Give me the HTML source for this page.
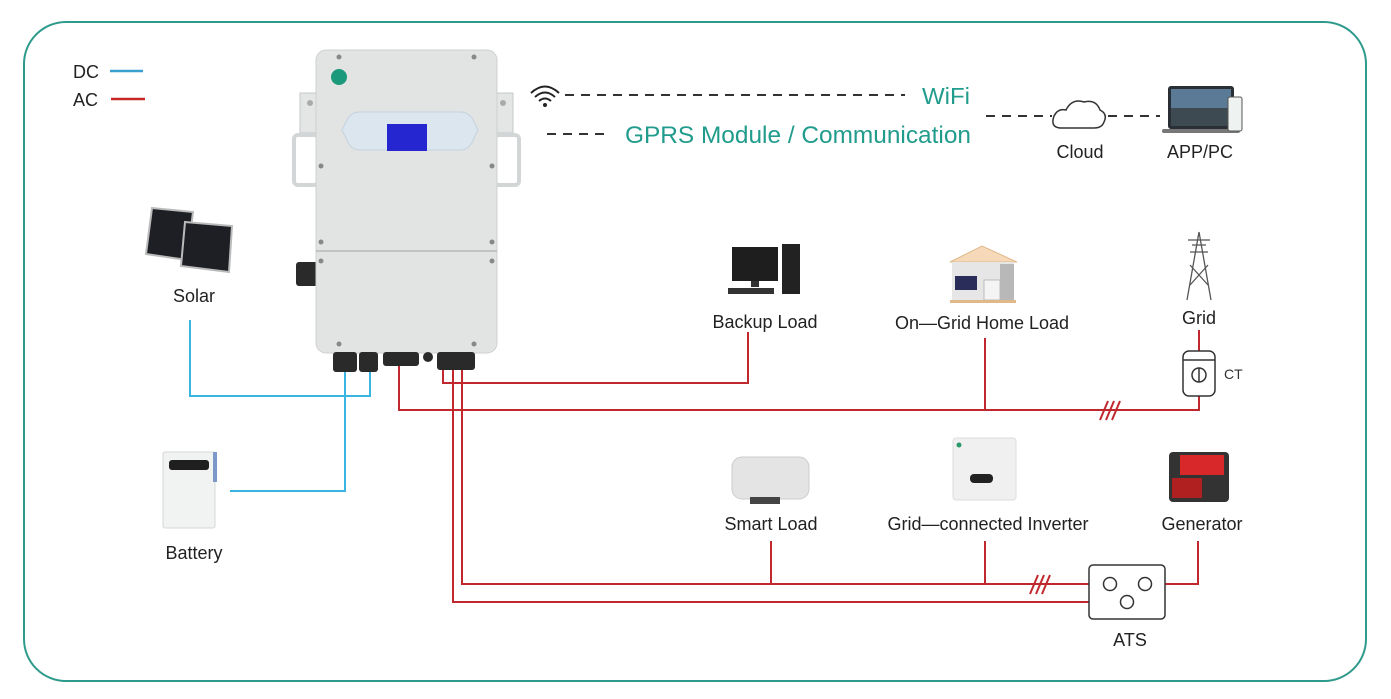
<!DOCTYPE html>
<html><head><meta charset="utf-8"><style>
html,body{margin:0;padding:0;background:#fff;}
svg{display:block;font-family:"Liberation Sans",sans-serif;}
</style></head><body>
<svg width="1391" height="699" viewBox="0 0 1391 699" xmlns="http://www.w3.org/2000/svg">
<rect x="24" y="22" width="1342" height="659" rx="42" fill="#fff" stroke="#2e9a8c" stroke-width="2"/>
<!-- legend -->
<text x="73" y="78" font-size="18" fill="#222">DC</text>
<line x1="110" y1="71" x2="143" y2="71" stroke="#3aa0d0" stroke-width="2.5"/>
<text x="73" y="106" font-size="18" fill="#222">AC</text>
<line x1="111" y1="99" x2="145" y2="99" stroke="#c62828" stroke-width="2.5"/>

<!-- DC wires -->
<g stroke="#3ab4e0" stroke-width="2" fill="none">
<polyline points="190,320 190,396 370,396 370,368"/>
<polyline points="230,491 345,491 345,368"/>
</g>
<!-- AC wires -->
<g stroke="#c0282d" stroke-width="2" fill="none">
<polyline points="443,368 443,383 748,383 748,332"/>
<polyline points="399,365 399,410 1199,410 1199,395"/>
<line x1="985" y1="338" x2="985" y2="410"/>
<line x1="1199" y1="330" x2="1199" y2="352"/>
<polyline points="462,368 462,584 1103,584"/>
<polyline points="453,368 453,602 1120,602"/>
<line x1="771" y1="541" x2="771" y2="584"/>
<line x1="985" y1="541" x2="985" y2="584"/>
<polyline points="1150,584 1198,584 1198,541"/>
<line x1="1100" y1="420" x2="1108" y2="401"/><line x1="1106" y1="420" x2="1114" y2="401"/><line x1="1112" y1="420" x2="1120" y2="401"/>
<line x1="1030" y1="594" x2="1038" y2="575"/><line x1="1036" y1="594" x2="1044" y2="575"/><line x1="1042" y1="594" x2="1050" y2="575"/>
</g>
<!-- CT -->
<rect x="1183" y="351" width="32" height="45" rx="6" fill="#fff" stroke="#333" stroke-width="1.5"/>
<line x1="1183" y1="360" x2="1215" y2="360" stroke="#333" stroke-width="1.5"/>
<circle cx="1199" cy="375" r="7" fill="none" stroke="#333" stroke-width="1.5"/>
<line x1="1199" y1="368" x2="1199" y2="382" stroke="#333" stroke-width="1.5"/>
<text x="1224" y="379" font-size="14" fill="#333">CT</text>
<!-- ATS -->
<rect x="1089" y="565" width="76" height="54" rx="4" fill="#fff" stroke="#333" stroke-width="1.5"/>
<circle cx="1110" cy="584" r="6.5" fill="#fff" stroke="#333" stroke-width="1.5"/>
<circle cx="1145" cy="584" r="6.5" fill="#fff" stroke="#333" stroke-width="1.5"/>
<circle cx="1127" cy="602" r="6.5" fill="#fff" stroke="#333" stroke-width="1.5"/>
<text x="1130" y="646" font-size="18" fill="#222" text-anchor="middle">ATS</text>

<!-- inverter brackets -->
<g fill="#e4e6e6" stroke="#c5c8c8">
<rect x="300" y="93" width="20" height="40"/><rect x="493" y="93" width="20" height="40"/>
</g>
<circle cx="310" cy="103" r="3" fill="#aaa"/><circle cx="503" cy="103" r="3" fill="#aaa"/>
<rect x="294" y="135" width="24" height="50" rx="4" fill="none" stroke="#d3d6d6" stroke-width="4"/>
<rect x="495" y="135" width="24" height="50" rx="4" fill="none" stroke="#d3d6d6" stroke-width="4"/>
<rect x="296" y="262" width="22" height="24" rx="3" fill="#2a2a2a"/>
<!-- inverter body -->
<rect x="316" y="50" width="181" height="303" rx="10" fill="#e2e3e3" stroke="#cfd1d1"/>
<line x1="316" y1="251" x2="497" y2="251" stroke="#b8baba" stroke-width="1.5"/>
<circle cx="339" cy="77" r="8" fill="#1a9a7a"/>
<path d="M360 112 L460 112 Q470 112 474 122 L478 130 L474 138 Q470 150 460 150 L360 150 Q350 150 346 138 L342 130 L346 122 Q350 112 360 112 Z" fill="#dce6ef" stroke="#c4d2de"/>
<rect x="387" y="124" width="40" height="27" fill="#2626d0"/>
<g fill="#888">
<circle cx="339" cy="57" r="2.5"/><circle cx="474" cy="57" r="2.5"/>
<circle cx="321" cy="166" r="2.5"/><circle cx="492" cy="166" r="2.5"/>
<circle cx="321" cy="242" r="2.5"/><circle cx="492" cy="242" r="2.5"/>
<circle cx="321" cy="261" r="2.5"/><circle cx="492" cy="261" r="2.5"/>
<circle cx="339" cy="344" r="2.5"/><circle cx="474" cy="344" r="2.5"/>
</g>
<!-- connectors -->
<g fill="#2a2a2a">
<rect x="333" y="352" width="24" height="20" rx="3"/><rect x="359" y="352" width="19" height="20" rx="3"/>
<rect x="383" y="352" width="36" height="14" rx="3"/><circle cx="428" cy="357" r="5"/>
<rect x="437" y="352" width="38" height="18" rx="3"/>
</g>

<!-- comms -->
<g fill="none" stroke="#222" stroke-width="2">
<path d="M531 93 Q545 80 559 93"/><path d="M535 97 Q545 88 555 97"/><path d="M539 101 Q545 96 551 101"/>
</g>
<circle cx="545" cy="105" r="2" fill="#222"/>
<line x1="565" y1="95" x2="905" y2="95" stroke="#333" stroke-width="2" stroke-dasharray="9,7"/>
<text x="922" y="104" font-size="23" fill="#219c8c" textLength="48" lengthAdjust="spacingAndGlyphs">WiFi</text>
<line x1="547" y1="134" x2="610" y2="134" stroke="#333" stroke-width="2" stroke-dasharray="9,7"/>
<text x="625" y="143" font-size="24" fill="#219c8c" textLength="346" lengthAdjust="spacingAndGlyphs">GPRS Module / Communication</text>
<line x1="986" y1="116" x2="1052" y2="116" stroke="#333" stroke-width="2" stroke-dasharray="9,7"/>
<line x1="1108" y1="116" x2="1160" y2="116" stroke="#333" stroke-width="2" stroke-dasharray="9,7"/>
<path d="M1060 128 Q1050 127 1054 116 Q1058 108 1066 110 Q1072 98 1084 102 Q1096 99 1100 110 Q1108 114 1104 122 Q1102 128 1094 128 Z" fill="#fff" stroke="#333" stroke-width="1.5"/>
<text x="1080" y="158" font-size="18" fill="#222" text-anchor="middle">Cloud</text>
<rect x="1168" y="86" width="66" height="43" rx="3" fill="#2a2f36"/>
<rect x="1171" y="89" width="60" height="37" fill="#5a7a95"/>
<rect x="1171" y="108" width="60" height="18" fill="#3d4a52"/>
<rect x="1162" y="129" width="78" height="4" rx="2" fill="#777"/>
<rect x="1228" y="97" width="14" height="34" rx="2" fill="#eef2f0" stroke="#555"/>
<text x="1200" y="158" font-size="18" fill="#222" text-anchor="middle">APP/PC</text>

<!-- solar -->
<polygon points="152,208 193,212 187,260 146,254" fill="#1d1f24" stroke="#bbb" stroke-width="2"/>
<polygon points="185,222 232,226 229,272 181,266" fill="#1d1f24" stroke="#bbb" stroke-width="2"/>
<text x="194" y="302" font-size="18" fill="#222" text-anchor="middle">Solar</text>
<!-- battery -->
<rect x="163" y="452" width="52" height="76" rx="2" fill="#f1f2f2" stroke="#d5d7d7"/>
<rect x="169" y="460" width="40" height="10" rx="3" fill="#1f1f1f"/>
<rect x="213" y="452" width="4" height="30" fill="#7a98c8"/>
<text x="194" y="559" font-size="18" fill="#222" text-anchor="middle">Battery</text>
<!-- backup load computer -->
<rect x="732" y="247" width="46" height="34" fill="#1e1e1e"/>
<rect x="751" y="281" width="8" height="6" fill="#333"/>
<rect x="728" y="288" width="46" height="6" fill="#333"/>
<rect x="782" y="244" width="18" height="50" fill="#222"/>
<text x="765" y="328" font-size="18" fill="#222" text-anchor="middle">Backup Load</text>
<!-- home load -->
<polygon points="950,262 982,246 1017,262" fill="#f5d9b8" stroke="#e0b98a"/>
<rect x="952" y="262" width="62" height="38" fill="#e6e6e6"/>
<rect x="955" y="276" width="22" height="14" fill="#2a2d5a"/>
<rect x="984" y="280" width="16" height="20" fill="#f4f4f4" stroke="#bbb"/>
<rect x="1000" y="264" width="14" height="36" fill="#b8b8b8"/>
<rect x="950" y="300" width="66" height="3" fill="#e0b98a"/>
<text x="982" y="329" font-size="18" fill="#222" text-anchor="middle">On—Grid Home Load</text>
<!-- grid tower -->
<g stroke="#555" stroke-width="1.3" fill="none">
<path d="M1199 232 L1187 300 M1199 232 L1211 300 M1190 285 L1208 265 M1208 285 L1190 265 M1192 245 L1206 245 M1190 252 L1208 252 M1188 240 L1210 240"/>
</g>
<text x="1199" y="324" font-size="18" fill="#222" text-anchor="middle">Grid</text>
<!-- smart load -->
<rect x="732" y="457" width="77" height="42" rx="10" fill="#e4e4e4" stroke="#ccc"/>
<rect x="750" y="497" width="30" height="7" fill="#444"/>
<text x="771" y="530" font-size="18" fill="#222" text-anchor="middle">Smart Load</text>
<!-- grid inverter -->
<rect x="953" y="438" width="63" height="62" rx="3" fill="#f0f0f0" stroke="#ddd"/>
<circle cx="959" cy="445" r="2.5" fill="#2a9a6a"/>
<rect x="970" y="474" width="23" height="9" rx="4" fill="#222"/>
<text x="988" y="530" font-size="18" fill="#222" text-anchor="middle">Grid—connected Inverter</text>
<!-- generator -->
<rect x="1169" y="452" width="60" height="50" rx="4" fill="#333"/>
<rect x="1180" y="455" width="44" height="20" fill="#d8282a"/>
<rect x="1172" y="478" width="30" height="20" fill="#b02020"/>
<text x="1202" y="530" font-size="18" fill="#222" text-anchor="middle">Generator</text>
</svg>
</body></html>
